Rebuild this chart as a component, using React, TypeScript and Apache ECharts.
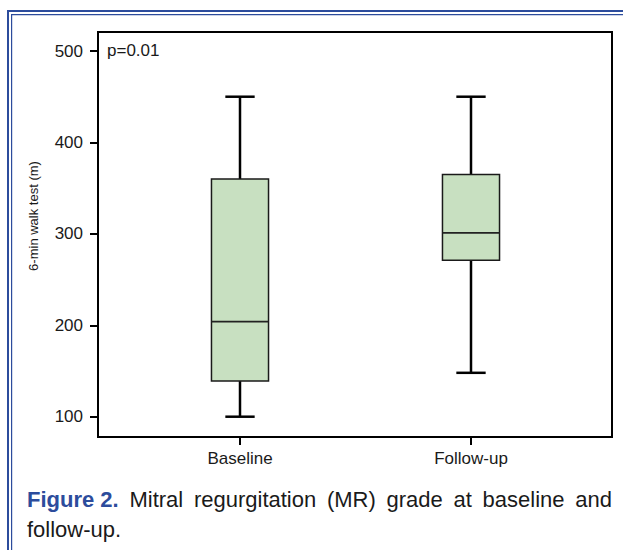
import { useEffect, useRef } from "react";
import * as echarts from "echarts";

const categories = ["Baseline", "Follow-up"];
const whiskerLow = [100, 148];
const quartile1 = [139, 271];
const medians = [204, 301];
const quartile3 = [360, 365];
const whiskerHigh = [450, 450];
const yTicks = [100, 200, 300, 400, 500];
const pValueLabel = "p=0.01";
const yTitle = "6-min walk test (m)";
const captionLead = "Figure 2.";
const captionWords = ["Mitral", "regurgitation", "(MR)", "grade", "at", "baseline", "and"];
const captionLine2 = "follow-up.";

const FONT = '"Liberation Sans", Arial, Helvetica, sans-serif';
const BLUE = "#2c4c9c";

export default function App() {
  const ref = useRef<HTMLDivElement>(null);
  useEffect(() => {
    if (!ref.current) return;
    const chart = echarts.init(ref.current, null, { renderer: "svg" });

    // caption justification
    const ctx = document.createElement("canvas").getContext("2d")!;
    ctx.font = `bold 22px ${FONT}`;
    const leadW = ctx.measureText(captionLead).width;
    ctx.font = `22px ${FONT}`;
    const widths = captionWords.map((w) => ctx.measureText(w).width);
    const left = 27;
    const right = 612;
    const total = leadW + widths.reduce((a, b) => a + b, 0);
    const gap = (right - left - total) / captionWords.length;
    const captionEls: any[] = [
      {
        type: "text",
        x: left,
        y: 499.5,
        style: { text: captionLead, font: `bold 22px ${FONT}`, fill: BLUE, align: "left", verticalAlign: "middle" },
      },
    ];
    let cx = left + leadW + gap;
    captionWords.forEach((w, i) => {
      captionEls.push({
        type: "text",
        x: cx,
        y: 499.5,
        style: { text: w, font: `22px ${FONT}`, fill: "#1a1a1a", align: "left", verticalAlign: "middle" },
      });
      cx += widths[i] + gap;
    });
    captionEls.push({
      type: "text",
      x: left,
      y: 529.5,
      style: { text: captionLine2, font: `22px ${FONT}`, fill: "#1a1a1a", align: "left", verticalAlign: "middle" },
    });

    const data = categories.map((_, i) => [i, whiskerLow[i], quartile1[i], medians[i], quartile3[i], whiskerHigh[i]]);

    chart.setOption({
      animation: false,
      backgroundColor: "#ffffff",
      grid: { left: 124.5, right: 36.5, top: 51, bottom: 133.3 },
      xAxis: {
        type: "category",
        data: categories,
        offset: 20.3,
        axisLine: { show: false },
        axisTick: { show: true, alignWithLabel: true, length: 8, lineStyle: { color: "#000", width: 2 } },
        axisLabel: { fontSize: 17, color: "#1a1a1a", fontFamily: FONT, margin: 13 },
        splitLine: { show: false },
      },
      yAxis: {
        type: "value",
        min: yTicks[0],
        max: yTicks[yTicks.length - 1],
        interval: yTicks[1] - yTicks[0],
        offset: 26.5,
        axisLine: { show: false },
        axisTick: { show: true, length: 8, lineStyle: { color: "#000", width: 2 } },
        axisLabel: { fontSize: 17, color: "#1a1a1a", fontFamily: FONT, margin: 15 },
        splitLine: { show: false },
      },
      series: [
        {
          type: "custom",
          data,
          encode: { x: 0, y: [1, 2, 3, 4, 5] },
          renderItem: (_params: any, api: any) => {
            const i = api.value(0);
            const lo = api.coord([i, api.value(1)]);
            const q1 = api.coord([i, api.value(2)]);
            const md = api.coord([i, api.value(3)]);
            const q3 = api.coord([i, api.value(4)]);
            const hi = api.coord([i, api.value(5)]);
            const band = api.size([1, 0])[0];
            const bw = band * 0.247;
            const cw = band * 0.127;
            const x = lo[0];
            const wStyle = { stroke: "#000", lineWidth: 2.5 };
            return {
              type: "group",
              children: [
                { type: "line", shape: { x1: x, y1: hi[1], x2: x, y2: q3[1] }, style: wStyle },
                { type: "line", shape: { x1: x - cw / 2, y1: hi[1], x2: x + cw / 2, y2: hi[1] }, style: wStyle },
                { type: "line", shape: { x1: x, y1: q1[1], x2: x, y2: lo[1] }, style: wStyle },
                { type: "line", shape: { x1: x - cw / 2, y1: lo[1], x2: x + cw / 2, y2: lo[1] }, style: wStyle },
                {
                  type: "rect",
                  shape: { x: x - bw / 2, y: q3[1], width: bw, height: q1[1] - q3[1] },
                  style: { fill: "#c8e0c1", stroke: "#1a1a1a", lineWidth: 1.5 },
                },
                {
                  type: "line",
                  shape: { x1: x - bw / 2, y1: md[1], x2: x + bw / 2, y2: md[1] },
                  style: { stroke: "#222", lineWidth: 1.8 },
                },
              ],
            };
          },
        },
      ],
      graphic: [
        // double blue border
        { type: "rect", shape: { x: 7, y: 10, width: 616, height: 2 }, style: { fill: BLUE } },
        { type: "rect", shape: { x: 7, y: 10, width: 2, height: 540 }, style: { fill: BLUE } },
        { type: "rect", shape: { x: 11, y: 14, width: 612, height: 1.2 }, style: { fill: BLUE } },
        { type: "rect", shape: { x: 11, y: 14, width: 1.2, height: 536 }, style: { fill: BLUE } },
        // plot frame
        {
          type: "rect",
          shape: { x: 98, y: 32, width: 514, height: 405 },
          style: { fill: "none", stroke: "#000", lineWidth: 2 },
        },
        {
          type: "text",
          x: 107,
          y: 50.5,
          style: { text: pValueLabel, font: `17px ${FONT}`, fill: "#1a1a1a", align: "left", verticalAlign: "middle" },
        },
        {
          type: "text",
          x: 33,
          y: 216,
          rotation: Math.PI / 2,
          style: { text: yTitle, font: `13px ${FONT}`, fill: "#1a1a1a", align: "center", verticalAlign: "middle" },
        },
        ...captionEls,
      ],
    });
    return () => chart.dispose();
  }, []);
  return (
    <div
      ref={ref}
      style={{ position: "fixed", left: 0, top: 0, width: 623, height: 550, background: "#fff" }}
    />
  );
}
